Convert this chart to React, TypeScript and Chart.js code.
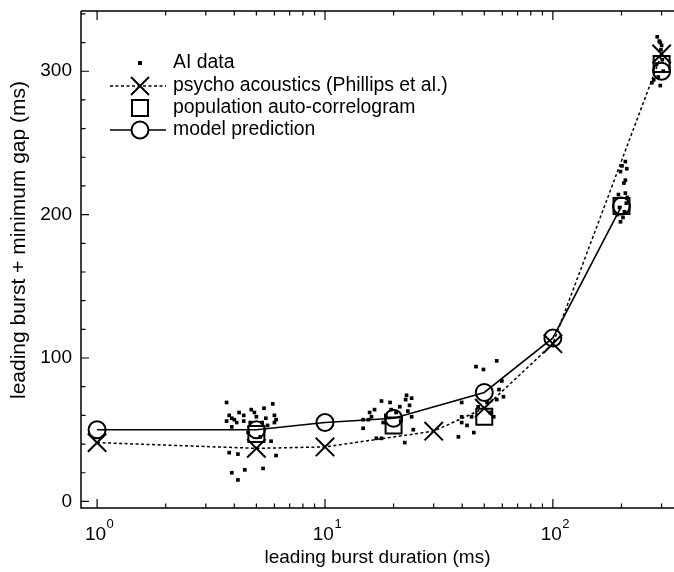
import React, { useEffect, useRef } from 'react';
import { Chart, registerables } from 'chart.js';

Chart.register(...registerables);

// ---- tick data ----
const xTickValues = [1, 10, 100];
const xTickBases = ['10', '10', '10'];
const xTickExponents = ['0', '1', '2'];
const xMinorTicks = [2, 3, 4, 5, 6, 7, 8, 9, 20, 30, 40, 50, 60, 70, 80, 90, 200, 300];
const yTickValues = [0, 100, 200, 300];
const yMinorTicks = [20, 40, 60, 80, 120, 140, 160, 180, 220, 240, 260, 280, 320, 340];

// ---- series ----
const modelDurations = [1, 5, 10, 20, 50, 100, 200, 300];
const modelValues = [50, 50, 55, 58, 76, 114, 206, 300];

const psychoDurations = [1, 5, 10, 30, 50, 100, 300];
const psychoValues = [41, 37, 38, 49, 65, 110, 312];

const popDurations = [5, 20, 50, 200, 300];
const popValues = [47, 53, 59, 206, 305];

const aiDurations = [
  3.7, 3.8, 3.9, 4.2, 4.4, 4.75, 5.4, 5.9, 4.4, 4.1, 5.0, 5.3, 5.6, 6.0, 6.1, 5.8, 3.8, 4.15, 6.1, 5.35, 4.45, 3.9, 4.15, 3.9, 5.2, 4.7, 4.9, 5.5, 4.0, 6.0, 3.7, 4.6,
  17.7, 19.3, 22.8, 22.6, 21.3, 15.7, 16.5, 14.7, 14.7, 15.5, 23.1, 24, 17.7, 22.4, 24.4, 16.8, 18.5, 20.5, 23.5, 16, 21.5, 18, 24, 19.5,
  46, 49.6, 56.7, 39.8, 39.8, 39.8, 38.5, 56.7, 60.7, 59.7, 55, 44, 51.4, 45, 58, 53, 47, 42,
  208, 211, 198, 208, 205, 194, 208, 201, 196, 210, 192, 203, 212, 198, 206,
  296, 298, 277, 272, 287, 293, 300, 305, 290, 302, 285, 296,
];
const aiValues = [
  69, 60, 58, 62, 60, 64, 65, 68, 56, 55, 59, 55, 53, 55, 57, 42, 34, 33, 32, 23, 22, 20, 15, 52, 45, 55, 62, 58, 57, 60, 56, 48,
  70, 69, 74, 71, 66, 62, 64, 57, 51, 57, 63, 59, 44, 41, 50, 44, 60, 62, 67, 59, 56, 55, 72, 64,
  94, 92, 98, 69, 59, 55, 45, 71, 73, 84, 59, 59, 69, 48, 78, 62, 66, 53,
  237, 232, 230, 224, 222, 214, 215, 234, 205, 208, 200, 198, 212, 195, 202,
  320, 315, 294, 292, 324, 321, 318, 300, 296, 308, 305, 290,
];

const legendLabels = [
  'AI data',
  'psycho acoustics (Phillips et al.)',
  'population auto-correlogram',
  'model prediction',
];

const xTitle = 'leading burst duration (ms)';
const yTitle = 'leading burst + minimum gap (ms)';

const FONT = "'Liberation Sans', Arial, Helvetica, sans-serif";

const pts = (xs: number[], ys: number[]) => xs.map((x, i) => ({ x, y: ys[i] }));

const zeroPadding = (s: any) => {
  s.paddingTop = 0;
  s.paddingBottom = 0;
  s.paddingLeft = 0;
  s.paddingRight = 0;
};

const framePlugin = {
  id: 'frameTicks',
  afterDraw(chart: any) {
    const { ctx, chartArea, scales } = chart;
    const { left, right, top, bottom } = chartArea;
    const xs = scales.x;
    const ys = scales.y;
    ctx.save();
    ctx.strokeStyle = '#000';
    ctx.lineWidth = 1.5;
    ctx.beginPath();
    ctx.moveTo(left, top);
    ctx.lineTo(left, bottom);
    ctx.lineTo(right, bottom);
    ctx.moveTo(left, top);
    ctx.lineTo(right, top);
    ctx.stroke();
    ctx.lineWidth = 1.2;
    ctx.beginPath();
    const xt = (v: number, len: number) => {
      const px = xs.getPixelForValue(v);
      ctx.moveTo(px, bottom);
      ctx.lineTo(px, bottom - len);
      ctx.moveTo(px, top);
      ctx.lineTo(px, top + len);
    };
    xTickValues.forEach((v) => xt(v, 9));
    xMinorTicks.forEach((v) => xt(v, 4.5));
    const yt = (v: number, len: number) => {
      const py = ys.getPixelForValue(v);
      ctx.moveTo(left, py);
      ctx.lineTo(left + len, py);
    };
    yTickValues.forEach((v) => yt(v, 8));
    yMinorTicks.forEach((v) => yt(v, 4.5));
    ctx.stroke();

    // x tick labels: base with raised exponent
    ctx.fillStyle = '#000';
    ctx.textBaseline = 'alphabetic';
    ctx.textAlign = 'left';
    xTickValues.forEach((v, i) => {
      const px = xs.getPixelForValue(v);
      ctx.font = `19px ${FONT}`;
      const wb = ctx.measureText(xTickBases[i]).width;
      ctx.font = `13px ${FONT}`;
      const we = ctx.measureText(xTickExponents[i]).width;
      const x0 = px - (wb + we) / 2 + 2;
      ctx.font = `19px ${FONT}`;
      ctx.fillText(xTickBases[i], x0, bottom + 32);
      ctx.font = `13px ${FONT}`;
      ctx.fillText(xTickExponents[i], x0 + wb + 0.5, bottom + 20);
    });

    // y axis title
    ctx.save();
    ctx.translate(19, 240);
    ctx.rotate(-Math.PI / 2);
    ctx.font = `21px ${FONT}`;
    ctx.textAlign = 'center';
    ctx.textBaseline = 'middle';
    ctx.fillText(yTitle, 0, 0);
    ctx.restore();

    ctx.restore();
  },
};

const legendPlugin = {
  id: 'insideLegend',
  afterDraw(chart: any) {
    const { ctx } = chart;
    const mx = 140;
    const x0 = 110;
    const x1 = 166;
    const tx = 173;
    const rows = [63, 86, 108, 130];
    ctx.save();
    ctx.fillStyle = '#000';
    ctx.strokeStyle = '#000';
    ctx.fillRect(mx - 2, rows[0] - 2, 4, 4);
    ctx.lineWidth = 1.5;
    ctx.setLineDash([3, 2.5]);
    ctx.beginPath();
    ctx.moveTo(x0, rows[1]);
    ctx.lineTo(x1, rows[1]);
    ctx.stroke();
    ctx.setLineDash([]);
    ctx.lineWidth = 2;
    ctx.beginPath();
    const h = 9;
    ctx.moveTo(mx - h, rows[1] - h);
    ctx.lineTo(mx + h, rows[1] + h);
    ctx.moveTo(mx + h, rows[1] - h);
    ctx.lineTo(mx - h, rows[1] + h);
    ctx.stroke();
    ctx.strokeRect(mx - 8, rows[2] - 8, 16, 16);
    ctx.lineWidth = 1.6;
    ctx.beginPath();
    ctx.moveTo(x0, rows[3]);
    ctx.lineTo(mx - 8.5, rows[3]);
    ctx.moveTo(mx + 8.5, rows[3]);
    ctx.lineTo(x1, rows[3]);
    ctx.stroke();
    ctx.lineWidth = 2;
    ctx.beginPath();
    ctx.arc(mx, rows[3], 8.5, 0, Math.PI * 2);
    ctx.stroke();
    ctx.font = `19.4px ${FONT}`;
    ctx.textBaseline = 'middle';
    ctx.textAlign = 'left';
    legendLabels.forEach((t, i) => ctx.fillText(t, tx, rows[i]));
    ctx.restore();
  },
};

export default function App() {
  const canvasRef = useRef<HTMLCanvasElement | null>(null);

  useEffect(() => {
    if (!canvasRef.current) return;
    const chart = new Chart(canvasRef.current, {
      type: 'scatter',
      data: {
        datasets: [
          {
            label: legendLabels[0],
            data: pts(aiDurations, aiValues),
            showLine: false,
            pointStyle: 'rect',
            pointRadius: 2.6,
            pointBackgroundColor: '#000',
            pointBorderWidth: 0,
            pointBorderColor: '#000',
          },
          {
            label: legendLabels[1],
            data: pts(psychoDurations, psychoValues),
            showLine: true,
            borderColor: '#000',
            borderWidth: 1.5,
            borderDash: [3, 2.5],
            tension: 0,
            pointStyle: 'crossRot',
            pointRadius: 13,
            pointBorderWidth: 2,
            pointBorderColor: '#000',
            pointBackgroundColor: 'rgba(0,0,0,0)',
          },
          {
            label: legendLabels[2],
            data: pts(popDurations, popValues),
            showLine: false,
            pointStyle: 'rect',
            pointRadius: 11.3,
            pointBorderWidth: 2,
            pointBorderColor: '#000',
            pointBackgroundColor: 'rgba(0,0,0,0)',
          },
          {
            label: legendLabels[3],
            data: pts(modelDurations, modelValues),
            showLine: true,
            borderColor: '#000',
            borderWidth: 1.6,
            tension: 0,
            pointStyle: 'circle',
            pointRadius: 8.5,
            pointBorderWidth: 2,
            pointBorderColor: '#000',
            pointBackgroundColor: 'rgba(0,0,0,0)',
            segment: {
              borderColor: (c: any) => (c.p0DataIndex === modelDurations.length - 2 ? 'rgba(0,0,0,0)' : undefined),
            },
          } as any,
        ],
      },
      options: {
        animation: false,
        responsive: true,
        maintainAspectRatio: false,
        events: [],
        layout: { autoPadding: false, padding: { left: 0, top: 11, right: 0, bottom: 0 } },
        plugins: {
          legend: { display: false },
          tooltip: { enabled: false },
        },
        scales: {
          x: {
            type: 'logarithmic',
            min: 0.85,
            max: 340,
            afterFit: (s: any) => {
              s.height = 64;
              zeroPadding(s);
            },
            afterBuildTicks: (s: any) => {
              s.ticks = xTickValues.map((v) => ({ value: v, major: true }));
            },
            ticks: { display: false },
            grid: { display: false, drawTicks: false },
            border: { display: false },
            title: {
              display: true,
              text: xTitle,
              color: '#000',
              font: { family: FONT, size: 19, lineHeight: 1.2 },
              padding: { top: 0, bottom: 3 },
            },
          },
          y: {
            type: 'linear',
            min: -4.6,
            max: 342,
            afterFit: (s: any) => {
              s.width = 81;
              zeroPadding(s);
            },
            afterBuildTicks: (s: any) => {
              s.ticks = yTickValues.map((v) => ({ value: v }));
            },
            ticks: {
              padding: 9,
              color: '#000',
              font: { family: FONT, size: 19 },
              callback: (v: any) => String(v),
            },
            grid: { display: false, drawTicks: false },
            border: { display: false },
            title: { display: false, text: yTitle },
          },
        },
      } as any,
      plugins: [framePlugin, legendPlugin],
    });
    return () => chart.destroy();
  }, []);

  return (
    <div style={{ position: 'absolute', left: 0, top: 0, width: 674, height: 572, background: '#fff' }}>
      <canvas ref={canvasRef} />
    </div>
  );
}
